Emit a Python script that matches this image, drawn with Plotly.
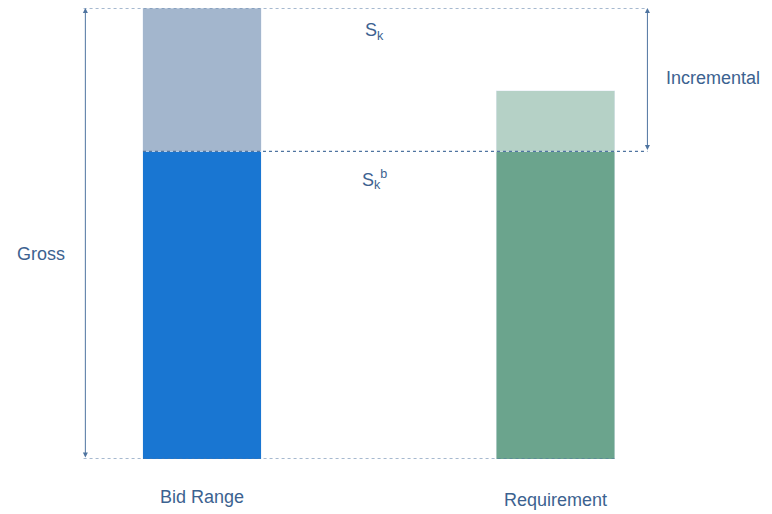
import plotly.graph_objects as go

categories = ["Bid Range", "Requirement"]
base_values = [68.2, 68.2]
incremental_values = [31.8, 13.5]
base_colors = ["#1976D2", "#6BA48D"]
top_colors = ["#A3B6CD", "#B5D1C6"]

txt = "#3C6290"
line_col = "#4F74A0"
xs = [0, 1]

fig = go.Figure()
fig.add_trace(go.Bar(x=xs, y=base_values, marker_color=base_colors, width=0.334))
fig.add_trace(go.Bar(x=xs, y=incremental_values, marker_color=top_colors, width=0.334))

top = base_values[0] + incremental_values[0]
mid = base_values[0]

# dotted guide lines
for x0, x1, y in [(-0.335, 1.26, top), (-0.167, 1.26, mid), (-0.335, 1.167, 0)]:
    fig.add_shape(type="line", x0=x0, x1=x1, y0=y, y1=y,
                  line=dict(color=line_col, width=1.2, dash="dot"))

# double-headed arrows
for x, y0, y1 in [(-0.33, 0, top), (1.26, mid, top)]:
    fig.add_annotation(x=x, y=y1, ax=x, ay=y0, xref="x", yref="y", axref="x", ayref="y",
                       showarrow=True, arrowhead=2, arrowside="end+start",
                       arrowsize=1, arrowwidth=1, arrowcolor=line_col, text="")

labels = [
    (-0.455, 45.4, "Gross", 18),
    (1.445, 84.5, "Incremental", 18),
    (0.489, 94.7, "S<sub>k</sub>", 18),
    (0.489, 62.0, "S<sub>k</sub><sup>b</sup>", 18),
]
for x, y, t, s in labels:
    fig.add_annotation(x=x, y=y, text=t, showarrow=False, xref="x", yref="y",
                       font=dict(size=s, color=txt))

for x, shift, t in [(0, -50, categories[0]), (1, -53, categories[1])]:
    fig.add_annotation(x=x, y=0, yref="paper", xref="x", yshift=shift, text=t,
                       showarrow=False, font=dict(size=18, color=txt))

fig.update_layout(
    barmode="stack", width=764, height=506, showlegend=False,
    margin=dict(l=0, r=0, t=0, b=55),
    plot_bgcolor="white", paper_bgcolor="white",
    font=dict(family="Liberation Sans, Arial", color=txt),
    xaxis=dict(range=[-0.5488, 1.6124], visible=False),
    yaxis=dict(range=[0, 100], visible=False),
)
fig.write_html("out.html")
